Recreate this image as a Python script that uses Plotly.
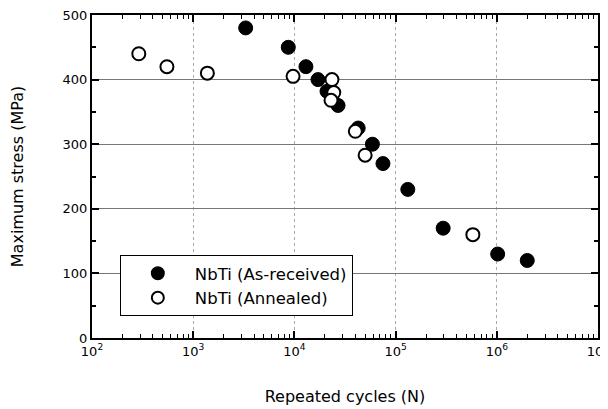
import plotly.graph_objects as go

as_received_cycles = [3300, 8700, 13000, 17100, 21000, 27000, 42700, 59000, 75000, 132000, 295000, 1.02e6, 2.0e6]
as_received_stress = [480, 450, 420, 400, 382, 360, 325, 300, 270, 230, 170, 130, 120]

annealed_cycles = [290, 550, 1380, 9700, 23500, 24500, 23000, 40000, 50000, 580000]
annealed_stress = [440, 420, 410, 405, 400, 380, 368, 320, 283, 160]

x_tickvals = [1e2, 1e3, 1e4, 1e5, 1e6, 1e7]
x_ticktext = ["10<sup>2</sup>", "10<sup>3</sup>", "10<sup>4</sup>", "10<sup>5</sup>", "10<sup>6</sup>", "10<sup>7</sup>"]
y_tickvals = [0, 100, 200, 300, 400, 500]
x_minor_vals = [m * 10 ** e for e in range(2, 7) for m in range(2, 10)]

fig = go.Figure()
fig.add_trace(go.Scatter(
    x=as_received_cycles, y=as_received_stress, mode="markers",
    name="NbTi (As-received)", legendgroup="a",
    marker=dict(size=14, color="black", line=dict(color="black", width=1)),
))
fig.add_trace(go.Scatter(
    x=annealed_cycles, y=annealed_stress, mode="markers",
    name="NbTi (Annealed)", legendgroup="b",
    marker=dict(size=13, color="white", line=dict(color="black", width=2)),
))
# invisible trace carrying the minor-tick axis
fig.add_trace(go.Scatter(
    x=[1e2, 1e7], y=[0, 0], xaxis="x2", mode="markers",
    marker=dict(opacity=0), showlegend=False, hoverinfo="skip",
))

font = "DejaVu Sans, Verdana, sans-serif"
fig.update_layout(
    width=600, height=401,
    margin=dict(l=84, r=10, t=7, b=71),
    paper_bgcolor="white", plot_bgcolor="white",
    font=dict(family=font, size=13, color="black"),
    showlegend=True,
    legend=dict(
        x=0.055, y=0.257, xanchor="left", yanchor="top",
        bgcolor="white", bordercolor="black", borderwidth=1,
        font=dict(size=16.5, family=font), itemsizing="constant",
        tracegroupgap=0, traceorder="grouped", itemwidth=64,
    ),
    xaxis=dict(
        type="log", range=[2, 7],
        tickvals=x_tickvals, ticktext=x_ticktext,
        ticks="inside", ticklen=7, tickwidth=1.5, tickcolor="black",
        mirror="ticks", showline=True, linecolor="black", linewidth=2,
        showgrid=True, gridcolor="#aaaaaa", griddash="dot", gridwidth=1,
        zeroline=False, automargin=False, ticklabeloverflow="allow",
        title=dict(text="Repeated cycles (N)", font=dict(size=16, family=font), standoff=33),
        tickfont=dict(size=13, family=font),
    ),
    xaxis2=dict(
        type="log", range=[2, 7], overlaying="x", side="bottom",
        tickvals=x_minor_vals, showticklabels=False,
        ticks="inside", ticklen=4, tickwidth=1, tickcolor="black",
        mirror="ticks", showline=False, showgrid=False, zeroline=False,
    ),
    yaxis=dict(
        range=[0, 500], tickvals=y_tickvals,
        ticks="inside", ticklen=7, tickwidth=1.5, tickcolor="black",
        mirror="ticks", showline=True, linecolor="black", linewidth=2,
        showgrid=True, gridcolor="#777777", gridwidth=1.2,
        minor=dict(ticks="inside", ticklen=4, tickcolor="black", dtick=50, showgrid=False),
        zeroline=False, automargin=False, ticklabeloverflow="allow",
        title=dict(text="Maximum stress (MPa)", font=dict(size=16, family=font), standoff=36),
        tickfont=dict(size=13, family=font),
    ),
)

fig.write_html("out.html")
